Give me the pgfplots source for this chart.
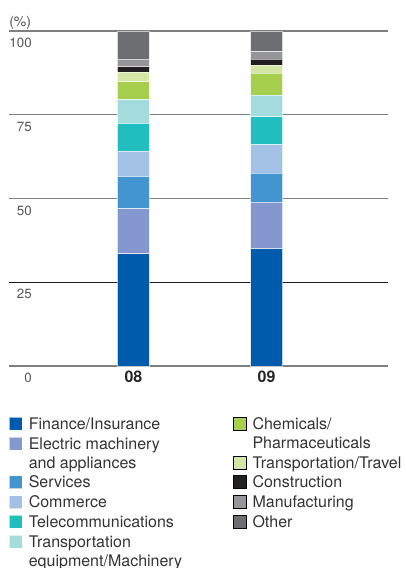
\documentclass[border=0pt]{standalone}
\usepackage{pgfplots}
\pgfplotsset{compat=1.18}
\usepackage{fontspec}
\setmainfont{TeX Gyre Heros}

\definecolor{cFin}{HTML}{005BAC}
\definecolor{cEle}{HTML}{8497CF}
\definecolor{cSer}{HTML}{4295D1}
\definecolor{cCom}{HTML}{A2C1E5}
\definecolor{cTel}{HTML}{20BEBE}
\definecolor{cTra}{HTML}{A3DCDC}
\definecolor{cChe}{HTML}{A5CF4C}
\definecolor{cTrv}{HTML}{D4E6A5}
\definecolor{cCon}{HTML}{231F20}
\definecolor{cMan}{HTML}{939598}
\definecolor{cOth}{HTML}{6D6E71}
\definecolor{txt}{HTML}{333333}
\definecolor{ticktxt}{HTML}{555555}
\definecolor{gridc}{HTML}{7F7F7F}

% invisible rules fixing the height of the first and the depth of the last line
\newcommand\Ta{\rule{0pt}{10.7pt}}
\newcommand\Tb{\rule[-4.3pt]{0pt}{4.3pt}}

\pgfplotsset{
  % square swatch sitting on the first line of its entry (cells hang from the top)
  sqlegend/.style={
    legend image code/.code={\fill[##1] (0pt,-11.3pt) rectangle (9.75pt,-1.55pt);}
  },
  legcol/.style={
    legend cell align=left,
    legend style={at={(#1,-0.1475)}, anchor=north west, draw=none, fill=none,
      inner sep=0pt, outer sep=0pt, row sep=2.7pt, column sep=4.5pt,
      cells={anchor=north west},
      nodes={inner sep=0pt, align=left, text=txt,
             font=\fontsize{12}{13.9}\selectfont}},
  },
  seg/.style={fill=#1, draw=white, draw opacity=0.6, line width=0.6pt},
}

\begin{document}
\begin{tikzpicture}
\useasboundingbox (0,0) rectangle (303.75pt,426pt);

% share of each industry, fiscal 08 and 09 (%)
\begin{axis}[
  at={(6.75pt,151.5pt)}, anchor=south west,
  width=284.25pt, height=251.25pt, scale only axis,
  ybar stacked, bar width=24pt, clip=false,
  xmin=-0.936, xmax=1.9135, ymin=0, ymax=100,
  xtick={0,1}, xticklabels={08,09},
  ytick={0,50,75,100}, extra y ticks={25},
  axis line style={draw=none}, major tick length=0pt,
  ymajorgrids, major grid style={gridc, line width=0.8pt},
  extra y tick style={major grid style={black!90, line width=0.8pt}},
  /pgf/number format/assume math mode=true,
  yticklabel style={anchor=east, inner sep=0pt, xshift=17.25pt, yshift=-9pt,
    text=ticktxt, font=\fontsize{10}{12}\selectfont},
  xticklabel style={anchor=north, inner sep=0pt, yshift=-3.75pt,
    text=black!85, font=\bfseries\fontsize{12}{14}\selectfont},
  sqlegend, legcol=0,
]
\addplot[seg=cFin] coordinates {(0,33.5) (1,35.0)};
\addlegendentry{\Ta\Tb Finance/Insurance}
\addplot[seg=cEle] coordinates {(0,13.4) (1,13.9)};
\addlegendentry{\Ta Electric machinery\\\Tb and appliances}
\addplot[seg=cSer] coordinates {(0,9.7) (1,8.7)};
\addlegendentry{\Ta\Tb Services}
\addplot[seg=cCom] coordinates {(0,7.6) (1,8.4)};
\addlegendentry{\Ta\Tb Commerce}
\addplot[seg=cTel] coordinates {(0,8.2) (1,8.4)};
\addlegendentry{\Ta\Tb Telecommunications}
\addplot[seg=cTra] coordinates {(0,7.1) (1,6.5)};
\addlegendentry{\Ta Transportation\\\Tb equipment/Machinery}
\addplot[seg=cChe] coordinates {(0,5.4) (1,6.5)};
\addplot[seg=cTrv] coordinates {(0,2.8) (1,2.4)};
\addplot[seg=cCon] coordinates {(0,1.7) (1,1.8)};
\addplot[seg=cMan] coordinates {(0,2.2) (1,2.2)};
\addplot[seg=cOth] coordinates {(0,8.4) (1,6.2)};

\node[anchor=base west, inner sep=0pt, text=ticktxt,
      font=\fontsize{10.5}{12}\selectfont]
  at (rel axis cs:0,1) [yshift=3.4pt] {(\%)};
\end{axis}

% second legend column
\begin{axis}[
  at={(6.75pt,151.5pt)}, anchor=south west,
  width=284.25pt, height=251.25pt, scale only axis,
  hide axis, xmin=0, xmax=1, ymin=0, ymax=1,
  sqlegend, legcol=0.591,
]
\addlegendimage{fill=cChe}
\addlegendentry{\Ta Chemicals/\\\Tb Pharmaceuticals}
\addlegendimage{fill=cTrv}
\addlegendentry{\Ta\Tb Transportation/Travel}
\addlegendimage{fill=cCon}
\addlegendentry{\Ta\Tb Construction}
\addlegendimage{fill=cMan}
\addlegendentry{\Ta\Tb Manufacturing}
\addlegendimage{fill=cOth}
\addlegendentry{\Ta\Tb Other}
\end{axis}
\end{tikzpicture}
\end{document}
